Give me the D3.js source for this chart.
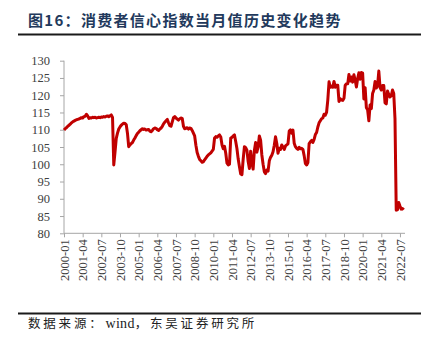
<!DOCTYPE html>
<html>
<head>
<meta charset="utf-8">
<script src="https://cdn.jsdelivr.net/npm/d3@7/dist/d3.min.js"></script>
<style>
  html, body { margin: 0; padding: 0; background: #fff; }
  svg { display: block; }
</style>
</head>
<body>
<svg id="chart" width="434" height="337"></svg>
<script>
// 消费者信心指数当月值, 2000-01 起按月
const startYear = 2000;
const cci = [
  // 2000
  109.9, 110.3, 110.6, 111.0, 111.3, 111.6, 112.0, 112.3, 112.5, 112.7, 112.9, 113.0,
  // 2001
  113.1, 113.3, 113.5, 113.4, 113.8, 113.9, 114.5, 114.0, 113.3, 113.5, 113.4, 113.6,
  // 2002
  113.5, 113.6, 113.4, 113.5, 113.6, 113.5, 113.7, 113.6, 113.8, 113.7, 113.9, 114.0,
  // 2003
  113.8, 114.0, 114.3, 113.6, 99.8, 103.5, 107.5, 109.0, 110.2, 110.8, 111.3, 111.6,
  // 2004
  111.9, 111.8, 111.5, 109.0, 105.1, 105.6, 106.0, 106.3, 107.0, 107.6, 108.3, 108.9,
  // 2005
  109.3, 109.7, 110.0, 110.3, 110.1, 110.2, 109.9, 110.0, 110.1, 109.6, 109.4, 109.8,
  // 2006
  110.3, 110.5, 110.4, 110.0, 109.8, 110.2, 110.5, 111.0, 111.7, 112.2, 112.6, 113.0,
  // 2007
  112.0, 111.2, 111.0, 112.3, 113.5, 113.8, 113.4, 113.1, 112.8, 113.2, 113.4, 113.3,
  // 2008
  111.0, 110.3, 110.4, 110.6, 110.2, 110.5, 110.4, 109.8, 109.0, 108.2, 105.5, 103.4,
  // 2009
  102.3, 101.4, 101.0, 100.6, 100.7, 101.3, 101.8, 102.3, 102.7, 103.0, 103.3, 103.8,
  // 2010
  104.3, 107.6, 108.0, 107.8, 108.2, 108.5, 107.9, 105.6, 104.5, 105.2, 103.2, 100.3,
  // 2011
  99.8, 100.0, 107.6, 107.8, 108.2, 108.5, 106.6, 104.5, 101.5, 99.3, 97.2, 97.0,
  // 2012
  101.5, 105.1, 104.8, 104.1, 100.8, 98.8, 103.8, 100.3, 98.6, 104.0, 106.3, 103.5,
  // 2013
  105.0, 108.2, 107.0, 102.7, 100.0, 97.8, 97.3, 98.3, 98.0, 101.0, 102.0, 102.6,
  // 2014
  103.6, 105.5, 108.0, 106.0, 103.2, 104.6, 104.3, 105.6, 105.0, 104.3, 105.3, 105.6,
  // 2015
  105.9, 109.6, 110.0, 109.0, 109.9, 106.1, 105.1, 104.6, 104.3, 104.9, 104.5, 104.6,
  // 2016
  104.3, 102.5, 100.2, 99.8, 100.5, 106.0, 106.5, 106.9, 106.3, 107.2, 108.6, 109.2,
  // 2017
  110.8, 112.0, 112.6, 113.2, 113.4, 114.5, 114.2, 115.0, 118.6, 123.9, 122.3, 122.6,
  // 2018
  122.3, 124.0, 122.3, 122.9, 122.9, 118.2, 119.0, 118.6, 118.5, 119.1, 122.9, 123.3,
  // 2019
  123.3, 126.0, 124.1, 125.3, 123.8, 125.9, 124.4, 122.4, 124.8, 126.5, 124.6, 126.6,
  // 2020
  126.4, 118.9, 122.2, 116.4, 115.8, 112.6, 117.2, 116.1, 120.5, 121.5, 124.0, 122.1,
  // 2021
  122.8, 127.0, 122.2, 121.5, 122.8, 122.8, 117.8, 117.5, 121.2, 120.2, 119.5, 119.8,
  // 2022
  121.5, 120.5, 113.2, 86.7, 86.8, 88.9, 87.9, 87.0, 87.2, 86.8
];

// 月份类目
const months = cci.map((_, i) => {
  const y = startYear + Math.floor(i / 12);
  const m = (i % 12) + 1;
  return y + "-" + String(m).padStart(2, "0");
});

const xTickLabels = [
  "2000-01", "2001-04", "2002-07", "2003-10", "2005-01", "2006-04",
  "2007-07", "2008-10", "2010-01", "2011-04", "2012-07", "2013-10",
  "2015-01", "2016-04", "2017-07", "2018-10", "2020-01", "2021-04", "2022-07"
];
const yTicks = [80, 85, 90, 95, 100, 105, 110, 115, 120, 125, 130];

const titleText = "图16：消费者信心指数当月值历史变化趋势";
// 来源行分段：中文部分加字距，英文部分保持紧凑
const sourceParts = [
  { text: "数据来源：", spaced: true },
  { text: "wind", spaced: false },
  { text: "，东吴证券研究所", spaced: true }
];

const svg = d3.select("#chart");

// 标题与上下分隔线
svg.append("text")
  .attr("x", 28).attr("y", 26)
  .attr("font-family", "'Noto Sans CJK SC', sans-serif")
  .attr("font-weight", "bold")
  .attr("font-size", 15)
  .attr("letter-spacing", 1.3)
  .attr("fill", "#22395c")
  .text(titleText);

svg.append("line")
  .attr("x1", 18).attr("x2", 421).attr("y1", 34.5).attr("y2", 34.5)
  .attr("stroke", "#1a1a1a").attr("stroke-width", 2);

svg.append("line")
  .attr("x1", 18).attr("x2", 421).attr("y1", 313.5).attr("y2", 313.5)
  .attr("stroke", "#1a1a1a").attr("stroke-width", 1.8);

svg.append("text")
  .attr("x", 28).attr("y", 328)
  .attr("font-family", "'Noto Sans CJK SC', sans-serif")
  .attr("font-size", 12.5)
  .attr("fill", "#222")
  .selectAll("tspan")
  .data(sourceParts)
  .join("tspan")
  .attr("letter-spacing", d => d.spaced ? 2.8 : 0.3)
  .attr("font-family", d => d.spaced ? "'Noto Sans CJK SC', sans-serif" : "'Liberation Serif', serif")
  .attr("font-size", d => d.spaced ? 12.5 : 14)
  .attr("dx", d => d.spaced ? 0 : 1)
  .text(d => d.text);

// 坐标比例
const x = d3.scalePoint().domain(months).range([64, 403.7]);
const y = d3.scaleLinear().domain([80, 130]).range([233.3, 60.7]);

const axisColor = "#a6a6a6";
const labelColor = "#404040";
const labelFont = "'Liberation Serif', 'Times New Roman', serif";

// Y 轴
const yAxis = svg.append("g")
  .attr("transform", "translate(64,0)")
  .call(d3.axisLeft(y).tickValues(yTicks).tickSize(4).tickPadding(10).tickFormat(d3.format("d")));
yAxis.select(".domain").attr("stroke", axisColor).attr("d", `M0,${y(130)}V${y(80)}`);
yAxis.selectAll(".tick line").attr("stroke", axisColor);
yAxis.selectAll(".tick text")
  .attr("font-family", labelFont).attr("font-size", 12.5).attr("fill", labelColor);

// X 轴
const xAxis = svg.append("g")
  .attr("transform", `translate(0,${y(80)})`)
  .call(d3.axisBottom(x).tickValues(xTickLabels).tickSize(4));
xAxis.select(".domain").attr("stroke", axisColor).attr("d", "M64,0H405");
xAxis.selectAll(".tick line").attr("stroke", axisColor);
xAxis.selectAll(".tick text")
  .attr("font-family", labelFont).attr("font-size", 12.5).attr("fill", labelColor)
  .attr("transform", "rotate(-90)")
  .attr("text-anchor", "end")
  .attr("x", -6).attr("y", 0).attr("dy", "0.33em");

// 指数折线
const line = d3.line()
  .x((d, i) => x(months[i]))
  .y(d => y(d));

svg.append("path")
  .datum(cci)
  .attr("fill", "none")
  .attr("stroke", "#c00000")
  .attr("stroke-width", 3)
  .attr("stroke-linejoin", "round")
  .attr("d", line);
</script>
</body>
</html>
